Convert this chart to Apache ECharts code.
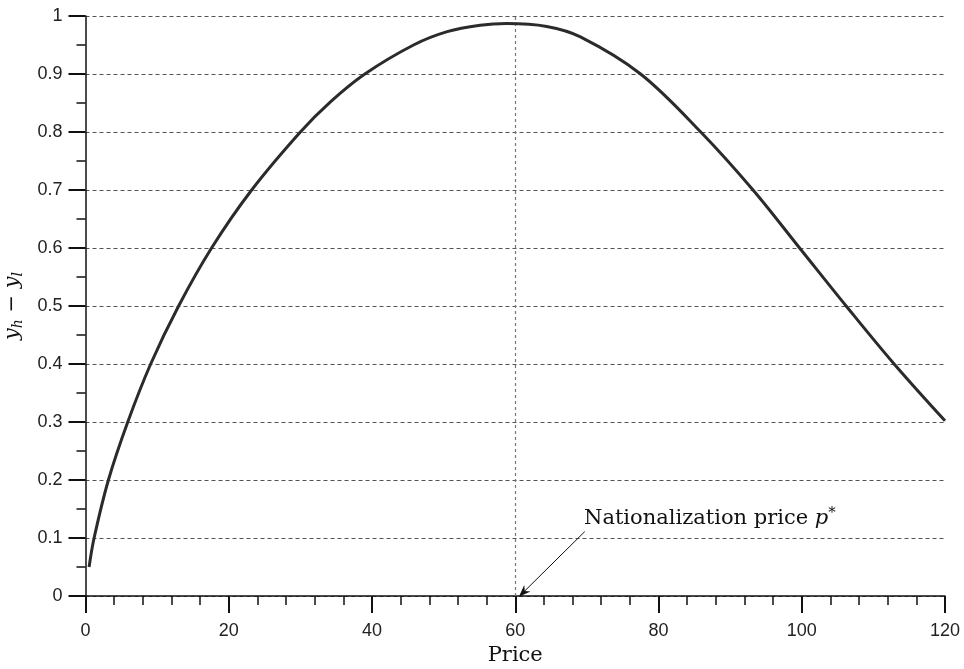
<!DOCTYPE html>
<html style="height: 100%">
<head>
	<meta charset="utf-8">
</head>
<body style="height: 100%; margin: 0; background: #fff">
<div id="container" style="width: 964px; height: 669px"></div>
<script type="text/javascript" src="https://cdn.jsdelivr.net/npm/echarts@6/dist/echarts.min.js"></script>
<script type="text/javascript">
    // values
    var priceData = [0.5, 1.2, 3.2, 5.9, 9.1, 13.0, 17.6, 23.2, 30.0, 34.2, 39.0, 45.8, 50.5, 55.1, 58.8, 64.4, 69.1, 77.5, 85.9, 93.2, 99.7, 106.2, 112.9, 120];
    var gapData = [0.05, 0.1, 0.2, 0.3, 0.4, 0.5, 0.6, 0.7, 0.8, 0.852, 0.9, 0.950, 0.973, 0.984, 0.987, 0.982, 0.964, 0.9, 0.8, 0.7, 0.6, 0.5, 0.4, 0.302];
    var pStar = 60;
    var arrowFrom = [69.7, 0.111];
    var arrowTo = [61.1, 0.006];
    var annotAt = [69.6, 0.133];

    var serif = '"DejaVu Serif", "Liberation Serif", serif';
    var sans = '"Liberation Sans", Arial, sans-serif';

    var points = [];
    for (var i = 0; i < priceData.length; i++) {
        points.push([priceData[i], gapData[i]]);
    }

    var dom = document.getElementById("container");
    var myChart = echarts.init(dom);
    var option = {
        animation: false,
        backgroundColor: '#fff',
        grid: {
            left: 85.5,
            right: 19,
            top: 16,
            bottom: 73,
            containLabel: false,
            outerBoundsMode: 'none'
        },
        xAxis: {
            type: 'value',
            min: 0,
            max: 120,
            interval: 20,
            name: 'Price',
            nameLocation: 'middle',
            nameGap: 44,
            nameTextStyle: { fontFamily: serif, fontSize: 21, color: '#111' },
            axisLine: { lineStyle: { color: '#111', width: 1.5 } },
            axisTick: { length: 17, lineStyle: { color: '#111', width: 2 } },
            minorTick: { show: true, splitNumber: 5, length: 9, lineStyle: { color: '#111', width: 1.5 } },
            axisLabel: { margin: 26, fontFamily: sans, fontSize: 18, color: '#222' },
            splitLine: { show: false }
        },
        yAxis: {
            type: 'value',
            min: 0,
            max: 1,
            interval: 0.1,
            name: '{i|y}{s|h}{n| − }{i|y}{s|l}',
            nameLocation: 'middle',
            nameRotate: 90,
            nameGap: 60,
            nameTextStyle: {
                rich: {
                    i: { fontFamily: serif, fontStyle: 'italic', fontSize: 21, color: '#111', lineHeight: 26 },
                    s: { fontFamily: serif, fontStyle: 'italic', fontSize: 14, color: '#111', lineHeight: 26, verticalAlign: 'bottom' },
                    n: { fontFamily: serif, fontSize: 21, color: '#111', lineHeight: 26 }
                }
            },
            axisLine: { show: true, lineStyle: { color: '#111', width: 1.5 } },
            axisTick: { show: true, length: 17, lineStyle: { color: '#111', width: 2 } },
            minorTick: { show: true, splitNumber: 2, length: 9, lineStyle: { color: '#111', width: 1.5 } },
            axisLabel: { margin: 23, fontFamily: sans, fontSize: 18, color: '#222' },
            splitLine: { show: true, lineStyle: { color: '#555', width: 1, type: [4, 3] } }
        },
        series: [{
            type: 'line',
            data: points,
            smooth: 0.35,
            symbol: 'none',
            lineStyle: { color: '#2b2b2b', width: 3 },
            z: 5,
            markLine: {
                silent: true,
                symbol: ['none', 'none'],
                label: { show: false },
                lineStyle: { color: '#777', width: 1.2, type: [3, 3] },
                data: [{ xAxis: pStar }]
            }
        }, {
            type: 'line',
            data: [],
            markLine: {
                silent: true,
                symbol: ['none', 'path://M5,0 L10,13 L5,9 L0,13 Z'],
                symbolSize: [9, 12],
                label: { show: false },
                lineStyle: { color: '#111', width: 1, type: 'solid' },
                data: [[{ coord: arrowFrom }, { coord: arrowTo }]]
            },
            markPoint: {
                silent: true,
                symbol: 'circle',
                symbolSize: 0,
                label: {
                    show: true,
                    position: 'right',
                    distance: 0,
                    formatter: '{n|Nationalization price }{p|p}{s|*}',
                    rich: {
                        n: { fontFamily: serif, fontSize: 21, color: '#111', lineHeight: 26 },
                        p: { fontFamily: serif, fontStyle: 'italic', fontSize: 21, color: '#111', lineHeight: 26 },
                        s: { fontFamily: serif, fontSize: 15, color: '#111', lineHeight: 26, verticalAlign: 'top' }
                    }
                },
                data: [{ coord: annotAt }]
            }
        }]
    };

    myChart.setOption(option, true);
    window.addEventListener('resize', function () {
        myChart.resize();
    });
</script>
</body>
</html>
